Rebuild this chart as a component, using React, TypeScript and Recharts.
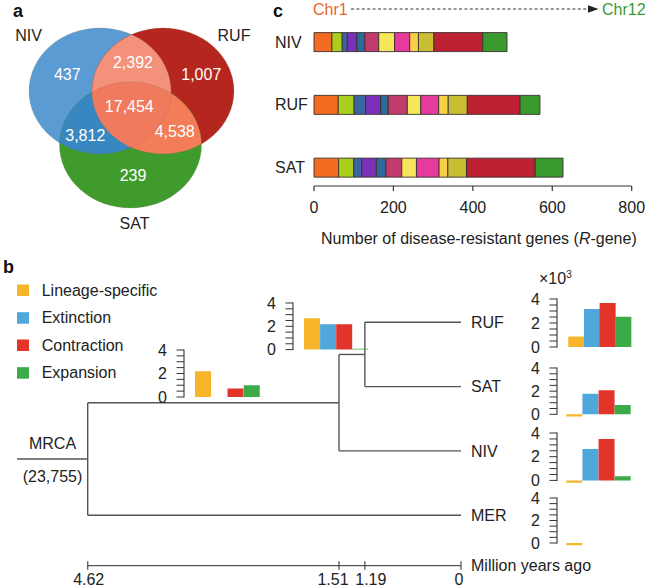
import React from 'react';
import {
  ScatterChart,
  Scatter,
  XAxis,
  YAxis,
  BarChart,
  Bar,
  Cell,
  ComposedChart,
  Line,
  ReferenceLine,
} from 'recharts';

const FONT = '"Liberation Sans", Arial, Helvetica, sans-serif';
const TEXT = '#222222';
const LINE = '#555555';

// ---------------- Panel a : Venn ----------------
const vennSets = ['NIV', 'RUF', 'SAT'];
const vennRegions = ['NIV', 'RUF', 'SAT', 'NIV&RUF', 'NIV&SAT', 'RUF&SAT', 'NIV&RUF&SAT'];
const vennCounts = [437, 1007, 239, 2392, 3812, 4538, 17454];

// ---------------- Panel c : R-genes per chromosome ----------------
const chromosomes = ['Chr1', 'Chr2', 'Chr3', 'Chr4', 'Chr5', 'Chr6', 'Chr7', 'Chr8', 'Chr9', 'Chr10', 'Chr11', 'Chr12'];
const rGeneSpecies = ['NIV', 'RUF', 'SAT'];
const nivRGenes = [45, 26, 13, 24, 20, 35, 40, 38, 22, 39, 123, 61];
const rufRGenes = [61, 40, 29, 38, 19, 48, 34, 45, 24, 48, 133, 50];
const satRGenes = [62, 38, 20, 37, 24, 40, 37, 57, 22, 47, 173, 70];
const rGeneTicks = [0, 200, 400, 600, 800];

// ---------------- Panel b : phylogeny + gene family events (x10^3) ----------------
const eventTypes = ['Lineage-specific', 'Extinction', 'Contraction', 'Expansion'];
const tipNames = ['RUF', 'SAT', 'NIV', 'MER'];
const rootTime = 4.62;
const nivSplitTime = 1.51;
const rufSatSplitTime = 1.19;
const timeTicks = [4.62, 1.51, 1.19, 0];
const mrcaGeneFamilies = 23755;
const mrcaBranchEvents = [2.2, 0, 0.72, 1.0];
const rufSatBranchEvents = [2.7, 2.17, 2.17, 0.08];
const rufEvents = [0.88, 3.17, 3.67, 2.52];
const satEvents = [-0.2, 1.78, 2.07, 0.8];
const nivEvents = [-0.2, 2.65, 3.5, 0.34];
const merEvents = [-0.2, 0, 0, 0];
const eventTicks = [0, 0.5, 1, 1.5, 2, 2.5, 3, 3.5, 4];

// ---------------- styles / layout ----------------
const VENN_COLORS: Record<string, string> = { NIV: '#5A9BD4', RUF: '#B5271E', SAT: '#3E9B2C' };
const VENN_POS: Record<string, [number, number]> = { NIV: [100, 91], RUF: [163, 91], SAT: [130.5, 145] };
const VENN_RX = 71;
const VENN_RY = 63;
const VENN_SET_LABEL_POS: Record<string, [number, number]> = { NIV: [28.5, 35], RUF: [234, 35], SAT: [134.5, 223.5] };
const VENN_COUNT_POS: Record<string, [number, number]> = {
  NIV: [67.3, 74],
  RUF: [201.3, 74],
  SAT: [133, 175],
  'NIV&RUF': [133, 62.3],
  'NIV&SAT': [85.3, 135],
  'RUF&SAT': [174.7, 131],
  'NIV&RUF&SAT': [129.3, 106.7],
};
const VENN_OVERLAPS = [
  { base: 'NIV', clips: ['SAT'], fill: '#3987C0' },
  { base: 'RUF', clips: ['SAT'], fill: '#F27D58' },
  { base: 'NIV', clips: ['RUF'], fill: '#F4917A' },
  { base: 'NIV', clips: ['RUF', 'SAT'], fill: '#F07A5D' },
];

const CHR_COLORS = [
  '#F26B21', '#A9CF1C', '#3B64A2', '#7B30B8', '#2D6A9C', '#C23A6C',
  '#F6E75A', '#E63A9C', '#F8D048', '#C8BE31', '#BE2132', '#399A2E',
];
const EVENT_COLORS = ['#F7B52C', '#50A8DA', '#E3342A', '#3BAA48'];

// ================= Venn =================
const renderVennCircle = (p: any) => {
  const name = p.payload.name;
  return (
    <g>
      <defs>
        <clipPath id={`venn-clip-${name}`}>
          <ellipse cx={p.cx} cy={p.cy} rx={VENN_RX} ry={VENN_RY} />
        </clipPath>
      </defs>
      <ellipse cx={p.cx} cy={p.cy} rx={VENN_RX} ry={VENN_RY} fill={VENN_COLORS[name]} />
    </g>
  );
};

const renderVennOverlap = (p: any) => {
  const { clips, fill } = p.payload;
  let el: React.ReactElement = <ellipse cx={p.cx} cy={p.cy} rx={VENN_RX} ry={VENN_RY} fill={fill} />;
  (clips as string[]).forEach((c) => {
    el = <g clipPath={`url(#venn-clip-${c})`}>{el}</g>;
  });
  return el;
};

const renderVennOutline = (p: any) => (
  <ellipse cx={p.cx} cy={p.cy} rx={VENN_RX} ry={VENN_RY} fill="none" stroke="#6b5a55" strokeOpacity={0.22} strokeWidth={0.9} />
);

const renderVennCount = (p: any) => (
  <text x={p.cx} y={p.cy + 5.7} textAnchor="middle" fill="#ffffff" style={{ fontFamily: FONT, fontSize: 16 }}>
    {Number(p.payload.count).toLocaleString('en-US')}
  </text>
);

const renderVennSetLabel = (p: any) => (
  <text x={p.cx} y={p.cy + 5.7} textAnchor="middle" fill={TEXT} style={{ fontFamily: FONT, fontSize: 16 }}>
    {p.payload.name}
  </text>
);

function VennChart() {
  const circles = vennSets.map((s) => ({ name: s, x: VENN_POS[s][0], y: VENN_POS[s][1] }));
  const overlaps = VENN_OVERLAPS.map((o) => ({ ...o, x: VENN_POS[o.base][0], y: VENN_POS[o.base][1] }));
  const counts = vennRegions.map((r, i) => ({ name: r, count: vennCounts[i], x: VENN_COUNT_POS[r][0], y: VENN_COUNT_POS[r][1] }));
  const setLabels = vennSets.map((s) => ({ name: s, x: VENN_SET_LABEL_POS[s][0], y: VENN_SET_LABEL_POS[s][1] }));
  return (
    <ScatterChart width={300} height={250} margin={{ top: 0, right: 0, bottom: 0, left: 0 }}>
      <XAxis type="number" dataKey="x" domain={[0, 300]} hide />
      <YAxis type="number" dataKey="y" domain={[0, 250]} reversed hide />
      <Scatter data={circles} shape={renderVennCircle} isAnimationActive={false} />
      <Scatter data={overlaps} shape={renderVennOverlap} isAnimationActive={false} />
      <Scatter data={circles} shape={renderVennOutline} isAnimationActive={false} />
      <Scatter data={counts} shape={renderVennCount} isAnimationActive={false} />
      <Scatter data={setLabels} shape={renderVennSetLabel} isAnimationActive={false} />
    </ScatterChart>
  );
}

// ================= Panel c =================
function RGeneChart() {
  const perSpecies = [nivRGenes, rufRGenes, satRGenes];
  const rows = rGeneSpecies.map((sp, i) => {
    const row: Record<string, any> = { species: sp };
    chromosomes.forEach((c, j) => {
      row[c] = perSpecies[i][j];
    });
    return row;
  });
  return (
    <BarChart
      layout="vertical"
      width={388}
      height={250}
      data={rows}
      margin={{ top: 10.6, right: 18.3, bottom: 0, left: 0 }}
      barSize={19}
    >
      <XAxis
        type="number"
        domain={[0, 800]}
        ticks={rGeneTicks}
        interval={0}
        height={64}
        tickSize={5}
        tickMargin={11}
        axisLine={{ stroke: '#333', strokeWidth: 1.2 }}
        tickLine={{ stroke: '#333', strokeWidth: 1.2 }}
        tick={{ fill: TEXT, fontSize: 16, fontFamily: FONT }}
        label={{
          content: (lp: any) => {
            const vb = lp.viewBox || { x: 52, y: 186, width: 317.7 };
            return (
              <text
                x={vb.x + vb.width / 2 + 6}
                y={vb.y + 58}
                textAnchor="middle"
                fill={TEXT}
                style={{ fontFamily: FONT, fontSize: 16 }}
              >
                Number of disease-resistant genes (<tspan fontStyle="italic">R</tspan>-gene)
              </text>
            );
          },
        }}
      />
      <YAxis
        type="category"
        dataKey="species"
        width={52}
        axisLine={false}
        tickLine={false}
        tickSize={0}
        tickMargin={0}
        padding={{ top: 0, bottom: -12.9 }}
        tick={(tp: any) => (
          <text x={tp.x - 39} y={tp.y + 5.7} textAnchor="start" fill={TEXT} style={{ fontFamily: FONT, fontSize: 16 }}>
            {tp.payload.value}
          </text>
        )}
      />
      {chromosomes.map((c, j) => (
        <Bar
          key={c}
          dataKey={c}
          stackId="r"
          fill={CHR_COLORS[j]}
          stroke="#3a3030"
          strokeWidth={0.9}
          isAnimationActive={false}
        />
      ))}
    </BarChart>
  );
}

// ================= Panel b : tree =================
function TreeChart() {
  const yIdx = (n: string) => tipNames.indexOf(n);
  const n119 = { t: rufSatSplitTime, y: (yIdx('RUF') + yIdx('SAT')) / 2 };
  const n151 = { t: nivSplitTime, y: (n119.y + yIdx('NIV')) / 2 };
  const root = { t: rootTime, y: (n151.y + yIdx('MER')) / 2 };
  const edges = [
    [{ t: root.t, y: n151.y }, { t: root.t, y: yIdx('MER') }],
    [{ t: root.t, y: n151.y }, { t: n151.t, y: n151.y }],
    [{ t: root.t, y: yIdx('MER') }, { t: 0, y: yIdx('MER') }],
    [{ t: n151.t, y: n119.y }, { t: n151.t, y: yIdx('NIV') }],
    [{ t: n151.t, y: n119.y }, { t: n119.t, y: n119.y }],
    [{ t: n151.t, y: yIdx('NIV') }, { t: 0, y: yIdx('NIV') }],
    [{ t: n119.t, y: yIdx('RUF') }, { t: n119.t, y: yIdx('SAT') }],
    [{ t: n119.t, y: yIdx('RUF') }, { t: 0, y: yIdx('RUF') }],
    [{ t: n119.t, y: yIdx('SAT') }, { t: 0, y: yIdx('SAT') }],
  ];
  const tips = tipNames.map((n, i) => ({ t: 0, y: i, name: n }));
  const stubTime = 5.495;

  const renderTimeTick = (tp: any) => {
    const v = tp.payload.value;
    const dx = v === 1.51 ? -6 : v === 1.19 ? 6 : v === 0 ? -2 : 1;
    return (
      <g>
        <line x1={tp.x} x2={tp.x} y1={tp.y - 4.5} y2={tp.y + 4} stroke={LINE} strokeWidth={1.3} />
        <text x={tp.x + dx} y={tp.y + 18.8} textAnchor="middle" fill={TEXT} style={{ fontFamily: FONT, fontSize: 16 }}>
          {String(v)}
        </text>
      </g>
    );
  };

  return (
    <ComposedChart
      width={650}
      height={308}
      margin={{ top: 10.15, right: 189, bottom: 0.3, left: 87.7 }}
      style={{ overflow: 'visible' }}
    >
      <XAxis
        type="number"
        dataKey="t"
        domain={[0, 4.62]}
        reversed
        ticks={timeTicks}
        interval={0}
        height={22}
        tickSize={0}
        tickMargin={0}
        tickLine={false}
        axisLine={{ stroke: LINE, strokeWidth: 1.3 }}
        tick={renderTimeTick}
        label={{
          content: (lp: any) => {
            const vb = lp.viewBox || { x: 87.7, y: 285.7, width: 373.3 };
            return (
              <text x={vb.x + vb.width + 10} y={vb.y + 5.2} fill={TEXT} style={{ fontFamily: FONT, fontSize: 16 }}>
                Million years ago
              </text>
            );
          },
        }}
      />
      <YAxis type="number" dataKey="y" domain={[-0.5, 3.785]} reversed hide />
      <ReferenceLine
        segment={[{ x: stubTime, y: root.y }, { x: root.t, y: root.y }]}
        ifOverflow="visible"
        stroke={LINE}
        strokeWidth={1.4}
      />
      {edges.map((e, i) => (
        <Line
          key={`edge-${i}`}
          data={e}
          dataKey="y"
          type="linear"
          stroke={LINE}
          strokeWidth={1.4}
          dot={false}
          activeDot={false}
          isAnimationActive={false}
        />
      ))}
      <Scatter
        data={tips}
        dataKey="y"
        isAnimationActive={false}
        shape={(sp: any) => (
          <text x={sp.cx + 10} y={sp.cy + 5.7} fill={TEXT} style={{ fontFamily: FONT, fontSize: 16 }}>
            {sp.payload.name}
          </text>
        )}
      />
    </ComposedChart>
  );
}

// ================= Panel b : event bar charts =================
function EventBars(props: {
  values: number[];
  axisX: number;
  zeroY: number;
  topY: number;
  barStart: number;
  barEnd: number;
}) {
  const { values, axisX, zeroY, topY, barStart, barEnd } = props;
  const ppu = (zeroY - topY) / 4;
  const dMin = -0.35;
  const gap = barStart - axisX;
  const yAxisW = 40 + gap;
  const left = barStart - yAxisW;
  const padTop = 12;
  const padBottom = 10;
  const top = topY - padTop;
  const plotH = (4 - dMin) * ppu;
  const height = padTop + plotH + padBottom;
  const width = yAxisW + (barEnd - barStart) + 2;
  const data = eventTypes.map((e, i) => ({ type: e, value: values[i] }));

  const renderTick = (tp: any) => {
    const v = tp.payload.value;
    const ax = tp.x - gap;
    return (
      <g>
        <line x1={ax - 7.5} x2={ax} y1={tp.y} y2={tp.y} stroke="#333" strokeWidth={1} />
        {v === 0 ? <line x1={ax} x2={ax} y1={tp.y + 0.5} y2={tp.y - 4 * ppu - 0.5} stroke="#333" strokeWidth={1.1} /> : null}
        {v === 0 || v === 2 || v === 4 ? (
          <text x={ax - 17} y={tp.y + 5.7} textAnchor="end" fill={TEXT} style={{ fontFamily: FONT, fontSize: 16 }}>
            {String(v)}
          </text>
        ) : null}
      </g>
    );
  };

  return (
    <div style={{ position: 'absolute', left, top }}>
      <BarChart
        width={width}
        height={height}
        data={data}
        margin={{ top: padTop, right: 2, bottom: padBottom, left: 0 }}
        barCategoryGap={0}
        barGap={0}
        style={{ overflow: 'visible' }}
      >
        <XAxis dataKey="type" hide />
        <YAxis
          type="number"
          domain={[dMin, 4]}
          ticks={eventTicks}
          interval={0}
          width={yAxisW}
          axisLine={false}
          tickLine={false}
          tickSize={0}
          tickMargin={0}
          allowDataOverflow
          tick={renderTick}
        />
        <Bar dataKey="value" isAnimationActive={false}>
          {data.map((d, i) => (
            <Cell key={d.type} fill={EVENT_COLORS[i]} />
          ))}
        </Bar>
      </BarChart>
    </div>
  );
}

// ================= Overlay text =================
function Overlay() {
  const t = { fontFamily: FONT, fontSize: 16 } as React.CSSProperties;
  const bold = { fontFamily: FONT, fontSize: 18, fontWeight: 700 } as React.CSSProperties;
  const legendY = [290, 317.7, 345, 372.7];
  return (
    <svg width={650} height={588} style={{ position: 'absolute', left: 0, top: 0, pointerEvents: 'none' }}>
      <text x={13} y={16.5} fill="#111" style={bold}>a</text>
      <text x={273} y={16.5} fill="#111" style={bold}>c</text>
      <text x={3} y={272.5} fill="#111" style={bold}>b</text>

      <text x={313} y={14.5} fill="#E8652B" style={t}>{chromosomes[0]}</text>
      <line x1={351} x2={589} y1={9} y2={9} stroke="#333" strokeWidth={1} strokeDasharray="3 2.4" />
      <polygon points="588,5.3 598.5,9 588,12.7" fill="#222" />
      <text x={602} y={14.5} fill="#3A9A35" style={t}>{chromosomes[chromosomes.length - 1]}</text>

      {eventTypes.map((e, i) => (
        <g key={e}>
          <rect x={17} y={legendY[i] - 5.5} width={12} height={11.5} fill={EVENT_COLORS[i]} />
          <text x={41.7} y={legendY[i] + 5.7} fill={TEXT} style={t}>{e}</text>
        </g>
      ))}

      <text x={52.5} y={449} textAnchor="middle" fill={TEXT} style={t}>MRCA</text>
      <text x={52.5} y={481.5} textAnchor="middle" fill={TEXT} style={t}>
        ({mrcaGeneFamilies.toLocaleString('en-US')})
      </text>

      <text x={539} y={284} fill={TEXT} style={t}>
        ×10<tspan dy={-6} style={{ fontSize: 10 }}>3</tspan>
      </text>
    </svg>
  );
}

export default function App() {
  return (
    <div
      style={{
        position: 'absolute',
        left: 0,
        top: 0,
        width: 650,
        height: 588,
        overflow: 'hidden',
        background: '#ffffff',
        fontFamily: FONT,
      }}
    >
      <div style={{ position: 'absolute', left: 0, top: 0 }}>
        <VennChart />
      </div>
      <div style={{ position: 'absolute', left: 262, top: 0 }}>
        <RGeneChart />
      </div>
      <div style={{ position: 'absolute', left: 0, top: 280 }}>
        <TreeChart />
      </div>
      <EventBars values={mrcaBranchEvents} axisX={184} zeroY={397} topY={350} barStart={195} barEnd={260} />
      <EventBars values={rufSatBranchEvents} axisX={293.3} zeroY={349.3} topY={302.7} barStart={304.3} barEnd={368.7} />
      <EventBars values={rufEvents} axisX={556.7} zeroY={347.3} topY={299.3} barStart={568} barEnd={630.7} />
      <EventBars values={satEvents} axisX={556.7} zeroY={414} topY={367.7} barStart={566} barEnd={630.5} />
      <EventBars values={nivEvents} axisX={556.7} zeroY={480.7} topY={433.3} barStart={566} barEnd={630.5} />
      <EventBars values={merEvents} axisX={556.7} zeroY={542.7} topY={497.7} barStart={566} barEnd={630.5} />
      <Overlay />
    </div>
  );
}
